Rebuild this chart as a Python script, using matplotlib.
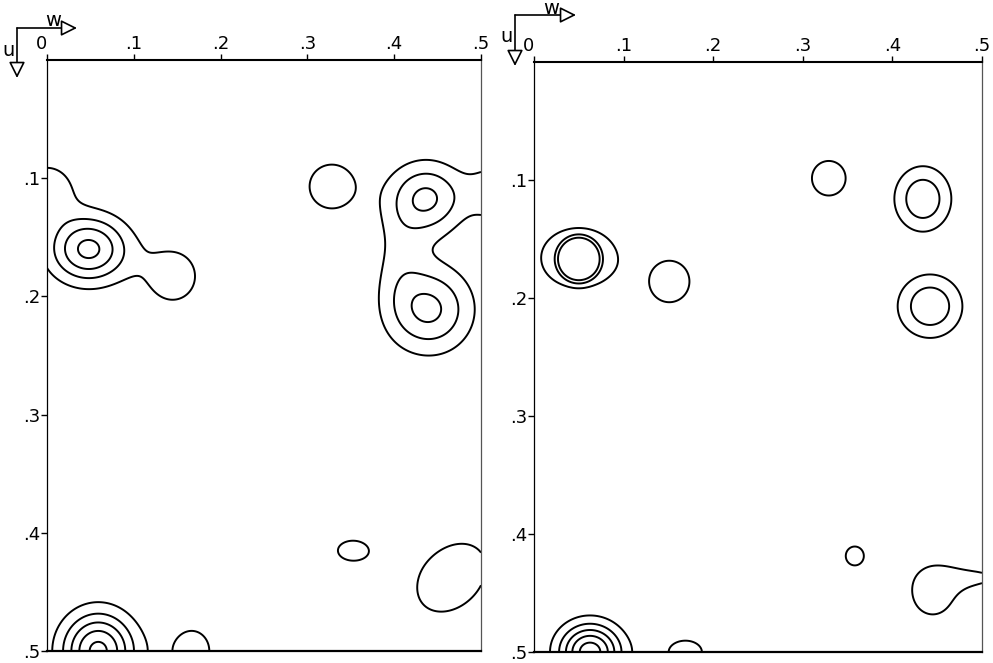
import numpy as np
import matplotlib
matplotlib.use('Agg')
import matplotlib.pyplot as plt
from matplotlib.patches import FancyArrowPatch

# peaks of the left map: position (w, u), height, widths, shape exponent, tilt
left_w = [0.048, 0.145, 0.000, 0.328, 0.438, 0.441, 0.405, 0.520, 0.352, 0.466, 0.059, 0.167]
left_u = [0.160, 0.183, 0.110, 0.107, 0.117, 0.211, 0.165, 0.112, 0.415, 0.438, 0.500, 0.500]
left_h = [4.3, 1.5, 1.75, 1.5, 3.15, 3.2, 1.0, 1.8, 1.2, 1.5, 5.3, 1.3]
left_sw = [0.045, 0.040, 0.035, 0.040, 0.0415, 0.048, 0.030, 0.035, 0.039, 0.059, 0.041, 0.039]
left_su = [0.028, 0.031, 0.025, 0.029, 0.030, 0.036, 0.050, 0.025, 0.019, 0.043, 0.032, 0.033]
left_q = [2, 2, 2, 2, 2, 2, 2, 2, 2, 2, 2, 2]
left_c = [0, 0, 0, 0, 0, 0, 0, 0, 0, 0.3, 0, 0]

# peaks of the right map
right_w = [0.050, 0.050, 0.151, 0.329, 0.434, 0.442, 0.358, 0.445, 0.500, 0.0625, 0.169]
right_u = [0.167, 0.166, 0.186, 0.0985, 0.116, 0.207, 0.4186, 0.449, 0.437, 0.500, 0.500]
right_h = [2.4, 1.45, 1.5, 1.5, 2.86, 2.9, 1.3, 1.5, 1.0, 5.6, 1.2]
right_sw = [0.026, 0.0538, 0.0353, 0.0295, 0.031, 0.035, 0.0196, 0.035, 0.045, 0.034, 0.043]
right_su = [0.0205, 0.0324, 0.0276, 0.023, 0.027, 0.026, 0.0156, 0.030, 0.013, 0.0236, 0.0225]
right_q = [8, 4, 2, 2, 2, 2, 2, 2, 2, 2, 2]
right_c = [0, 0, 0, 0, 0, 0, 0, 0, 0, 0, 0]

levels = [1, 2, 3, 4, 5]
w_ticks = [0, 0.1, 0.2, 0.3, 0.4, 0.5]
w_labels = ['0', '.1', '.2', '.3', '.4', '.5']
u_ticks = [0.1, 0.2, 0.3, 0.4, 0.5]
u_labels = ['.1', '.2', '.3', '.4', '.5']


def density(W, U, pw, pu, ph, psw, psu, pq, pc):
    Z = np.zeros_like(W)
    for w0, u0, h, sw, su, q, c in zip(pw, pu, ph, psw, psu, pq, pc):
        dw = (W - w0) / sw
        du = (U - u0) / su
        r2 = dw ** 2 + du ** 2 + 2 * c * dw * du
        Z += h * np.exp(-r2 ** (q / 2.0))
    return Z


def setup(ax):
    ax.set_xlim(0, 0.5)
    ax.set_ylim(0.5, 0)
    ax.xaxis.tick_top()
    ax.set_xticks(w_ticks)
    ax.set_xticklabels(w_labels)
    ax.get_xticklabels()[0].set_horizontalalignment('right')
    ax.set_yticks(u_ticks)
    ax.set_yticklabels(u_labels)
    ax.tick_params(direction='out', length=4, width=1, labelsize=13, pad=1)
    ax.spines['top'].set_linewidth(1.5)
    ax.spines['bottom'].set_linewidth(1.6)
    ax.spines['left'].set_linewidth(0.9)
    ax.spines['right'].set_linewidth(0.9)
    ax.spines['right'].set_color('#555555')


def axis_key(fig, x0, y0, xw, yu):
    W, H = 993.0, 663.0
    fx = lambda x: x / W
    fy = lambda y: 1 - y / H
    for tip in [(xw, y0), (x0, yu)]:
        arr = FancyArrowPatch((fx(x0), fy(y0)), (fx(tip[0]), fy(tip[1])),
                              transform=fig.transFigure,
                              arrowstyle='-|>,head_length=0.7,head_width=0.35',
                              mutation_scale=14, lw=1.2, edgecolor='black',
                              facecolor='white', shrinkA=0, shrinkB=0)
        fig.add_artist(arr)
    fig.text(fx(x0 + 36), fy(y0 - 7), 'w', fontsize=14, ha='center', va='center')
    fig.text(fx(x0 - 9), fy(y0 + 22), 'u', fontsize=14, ha='center', va='center')


fig = plt.figure(figsize=(9.93, 6.63), dpi=100)
ax1 = fig.add_axes([47 / 993, 12 / 663, 434 / 993, 591 / 663])
ax2 = fig.add_axes([534 / 993, 11 / 663, 448 / 993, 590 / 663])

g = np.linspace(0, 0.5, 501)
W, U = np.meshgrid(g, g)

Z1 = density(W, U, left_w, left_u, left_h, left_sw, left_su, left_q, left_c)
Z2 = density(W, U, right_w, right_u, right_h, right_sw, right_su, right_q, right_c)

ax1.contour(W, U, Z1, levels=levels, colors='black', linewidths=1.4)
ax2.contour(W, U, Z2, levels=levels, colors='black', linewidths=1.4)

setup(ax1)
setup(ax2)

axis_key(fig, 17, 28, 77, 78)
axis_key(fig, 515, 15, 576, 66)

fig.savefig('out.png', dpi=100)
